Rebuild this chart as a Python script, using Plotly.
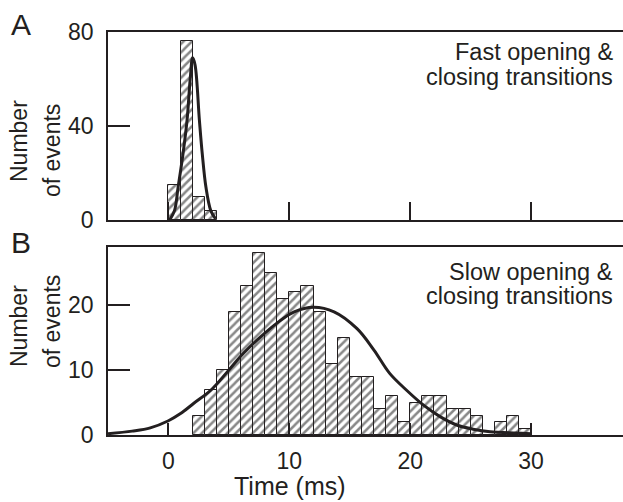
import plotly.graph_objects as go

# ---- data ----
binsA_left = [0, 1, 2, 3]
countsA = [15, 76, 10, 4]
fitA_x = [0.1, 0.5, 0.8, 1.2, 1.54, 1.8, 2.0, 2.2, 2.56, 2.8, 3.1, 3.5, 3.9]
fitA_y = [0, 4, 14, 28, 42.5, 60, 69, 66, 42.5, 28, 14, 4, 0.5]

binsB_left = list(range(2, 30))
countsB = [3, 7, 10, 19, 23, 28, 25, 21, 22, 23, 19, 11, 15, 9, 9, 4, 6, 2, 5, 6, 6, 4, 4, 3, 0, 2, 3, 1]
fitB_x = [-5, -3, -1.5, 0, 1, 2.1, 3.5, 4.85, 6.2, 7.6, 9, 10.4, 12, 13.7, 15.6, 17, 18.3, 19.7, 21.1, 22.5, 23.9, 25.2, 26.6, 28.8, 30]
fitB_y = [0.2, 0.6, 1.1, 2.2, 3.3, 4.9, 6.9, 9.7, 12.6, 15.1, 17.3, 19.0, 19.7, 19.0, 16.4, 13.1, 9.5, 6.9, 4.6, 2.8, 1.5, 0.9, 0.5, 0.3, 0.2]

xticks = [0, 10, 20, 30]
yticksA = [0, 40, 80]
yticksB = [0, 10, 20]

INK = "#231f20"
FONT = "Liberation Sans, Arial, sans-serif"
W, H = 623, 502
ML, MR, MT, MB = 108, 0, 32, 67
PW, PH = W - ML - MR, H - MT - MB


def px(xp):
    return (xp - ML) / PW


def py(yp):
    return (H - MB - yp) / PH


def bar_trace(lefts, counts, xa, ya):
    return go.Bar(
        x=[l + 0.5 for l in lefts], y=counts, width=1, xaxis=xa, yaxis=ya,
        marker=dict(color="white",
                    line=dict(color=INK, width=1),
                    pattern=dict(shape="/", size=6, solidity=0.42,
                                 fgcolor="#111111", bgcolor="white")),
        showlegend=False, hoverinfo="skip")


fig = go.Figure()
fig.add_trace(bar_trace(binsA_left, countsA, "x", "y"))
fig.add_trace(go.Scatter(x=fitA_x, y=fitA_y, mode="lines", line=dict(color=INK, width=3, shape="spline"),
                         xaxis="x", yaxis="y", showlegend=False))
fig.add_trace(bar_trace(binsB_left, countsB, "x2", "y2"))
fig.add_trace(go.Scatter(x=fitB_x, y=fitB_y, mode="lines", line=dict(color=INK, width=3, shape="spline"),
                         xaxis="x2", yaxis="y2", showlegend=False))

topA = 1.0
botA = py(220)
topB = py(247)

axis_common = dict(showgrid=False, zeroline=False, showline=True, linecolor=INK, linewidth=1.5,
                   ticks="inside", tickcolor=INK, tickwidth=1.5,
                   tickfont=dict(family=FONT, size=23, color=INK))

fig.update_layout(
    width=W, height=H, margin=dict(l=ML, r=MR, t=MT, b=MB),
    paper_bgcolor="white", plot_bgcolor="white", bargap=0,
    xaxis=dict(axis_common, domain=[0, 1], anchor="y", range=[-5, 37.6], tickvals=xticks,
               showticklabels=False, mirror=True, ticklen=18),
    yaxis=dict(axis_common, domain=[botA, topA], anchor="x", range=[0, 80], tickvals=yticksA,
               ticklen=22, ticklabelstandoff=8),
    xaxis2=dict(axis_common, domain=[0, 1], anchor="y2", range=[-5, 37.6], tickvals=xticks,
                mirror=True, ticklen=12, ticklabelstandoff=5),
    yaxis2=dict(axis_common, domain=[0, topB], anchor="x2", range=[0, 29], tickvals=yticksB,
                ticklen=22, ticklabelstandoff=8),
)

ann = [
    ("A", 21, 24, 30, "center", "middle"),
    ("B", 21, 242, 30, "center", "middle"),
    ("Fast opening &", 614, 52, 23.5, "right", "middle"),
    ("closing transitions", 614, 77, 23.5, "right", "middle"),
    ("Slow opening &", 614, 272, 23.5, "right", "middle"),
    ("closing transitions", 614, 296, 23.5, "right", "middle"),
    ("Time (ms)", 290, 501, 25, "center", "bottom"),
]
for text, x, y, size, xa, ya in ann:
    fig.add_annotation(text=text, x=px(x), y=py(y), xref="paper", yref="paper",
                       xanchor=xa, yanchor=ya, showarrow=False, borderpad=0,
                       font=dict(family=FONT, size=size, color=INK))

for text, x, y in [("Number", 19, 141), ("of events", 52, 151), ("Number", 19, 326), ("of events", 52, 322)]:
    fig.add_annotation(text=text, x=px(x), y=py(y), xref="paper", yref="paper",
                       xanchor="center", yanchor="middle", textangle=-90, showarrow=False,
                       font=dict(family=FONT, size=23, color=INK))

fig.write_html("out.html")
